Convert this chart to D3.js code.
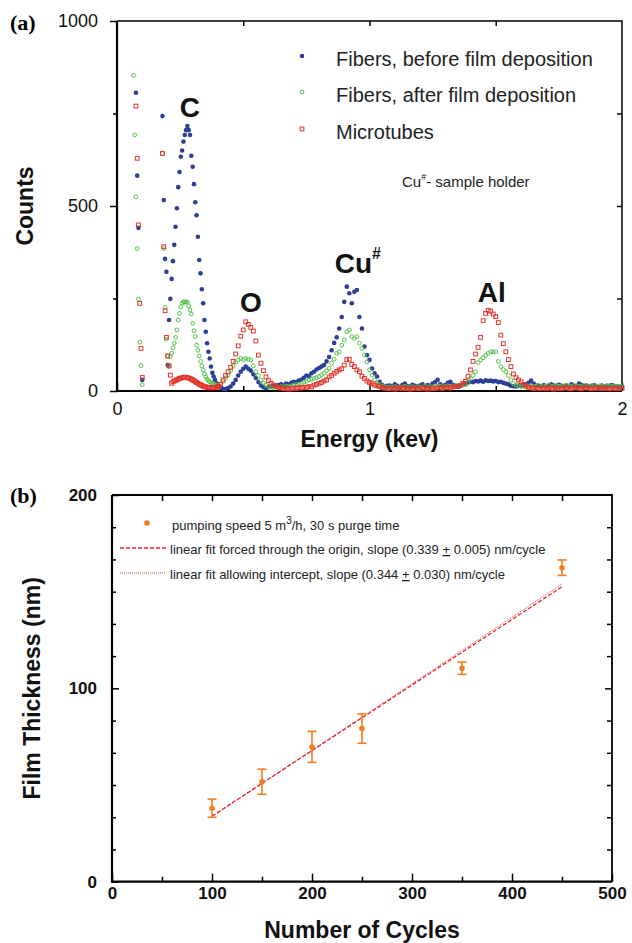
<!DOCTYPE html>
<html>
<head>
<meta charset="utf-8">
<script src="https://cdn.jsdelivr.net/npm/d3@7"></script>
<style>
  body { margin: 0; background: #fff; }
  text { font-family: "Liberation Sans", Arial, sans-serif; }
</style>
</head>
<body>
<div id="chart"></div>
<script>
// ---------- panel (a) data: EDX counts ----------
// low-energy channels (noise edge near 0 kev)
var lowEnergy = [0.065, 0.070, 0.075, 0.080, 0.085, 0.090, 0.095, 0.100];
var blueLow  = [null, null, 806, 582, 441, null, null, 30];
var greenLow = [853, 692, 525, 385, 248, 132, 69, 17];
var redLow   = [null, null, 770, 629, 449, 237, 115, 37];

// C peak region, fine channels from 0.18 kev
var fineStart = 0.18, fineStep = 0.0052;
var blueFine = [
  743, 516, 357, 322, 70, 192, 249, 303, 351, 395,
  444, 494, 551, 592, 633, 650, 674, 692, 705, 716,
  705, 692, 636, 606, 559, 510, 475, 417, 354, 318,
  275, 237, 192, 160, 129, 106, 88, 66, 49, 39,
  30, 21, 16, 12
];
var greenFine = [
  642, 385, 226, 140, 93, 66, 93, 102, 117, 129,
  145, 165, 192, 210, 228, 237, 241, 240, 241, 240,
  230, 219, 208, 183, 163, 147, 124, 110, 95, 80,
  68, 57, 46, 38, 32, 28, 25, 23, 21, 19,
  17, 16, 15, 14
];
var redFine = [
  642, 390, 217, 145, 95, 68, 43, 21, 25, 27,
  29, 30, 32, 34, 35, 36, 37, 37, 37, 36,
  35, 34, 32, 30, 28, 25, 23, 21, 18, 17,
  15, 13, 12, 11, 10, 9, 9, 9, 9, 9,
  9, 10, 11, 13
];

// main channels: 0.41 kev upward, one value every 0.01 kev
var mainStart = 0.41, mainStep = 0.01;
var blueCounts = [
  9, 6, 5, 8, 12, 20, 30,
  42, 52, 60, 66, 60, 55, 45, 35, 24, 15,
  10, 8, 10, 12, 14, 15, 16, 18, 15, 20,
  18, 22, 25, 24, 28, 30, 36, 42, 40, 48,
  52, 58, 62, 66, 70, 80, 92, 110, 130, 145,
  169, 200, 241, 282, 264, 237, 268, 273, 200, 169,
  120, 97, 84, 61, 48, 39, 25, 16, 12, 14,
  15, 12, 18, 14, 11, 16, 20, 13, 12, 17,
  14, 12, 15, 18, 13, 16, 14, 20, 24, 30,
  18, 14, 16, 22, 25, 17, 15, 13, 16, 18,
  20, 22, 25, 24, 27, 26, 28, 25, 29, 27,
  28, 26, 27, 24, 25, 22, 20, 18, 14, 13,
  12, 14, 15, 16, 18, 22, 28, 20, 15, 14,
  13, 16, 12, 14, 18, 15, 12, 17, 14, 13,
  15, 12, 18, 14, 12, 20, 16, 13, 15, 12,
  14, 16, 12, 11, 15, 13, 12, 14, 16, 12,
  13, 11, 12
];
var greenCounts = [
  18, 26, 35, 43, 55, 68, 78,
  84, 88, 85, 88, 86, 84, 68, 52, 42, 30,
  22, 16, 12, 10, 9, 11, 10, 12, 11, 13,
  12, 14, 15, 17, 18, 20, 24, 26, 30, 32,
  34, 36, 39, 44, 48, 55, 61, 75, 86, 102,
  106, 124, 138, 160, 165, 147, 142, 147, 129, 115,
  97, 79, 57, 43, 30, 21, 16, 13, 12, 10,
  11, 9, 12, 10, 8, 11, 13, 10, 9, 12,
  10, 12, 11, 9, 13, 10, 12, 11, 14, 12,
  13, 11, 12, 14, 12, 13, 15, 14, 16, 18,
  16, 22, 33, 42, 52, 77, 84, 90, 96, 102,
  106, 106, 106, 80, 66, 58, 52, 42, 30, 20,
  16, 14, 12, 13, 11, 12, 14, 12, 13, 15,
  12, 14, 13, 16, 12, 14, 15, 13, 12, 14,
  16, 13, 12, 15, 14, 13, 12, 16, 14, 12,
  13, 15, 12, 14, 13, 12, 15, 13, 12, 14,
  13, 12, 14
];
var redCounts = [
  18, 30, 42, 52, 64, 80, 100,
  122, 148, 165, 187, 180, 172, 162, 135, 97, 75,
  55, 38, 28, 21, 16, 12, 10, 8, 6, 7,
  5, 6, 8, 7, 9, 8, 10, 9, 12, 11,
  16, 18, 21, 23, 27, 30, 38, 42, 48, 53,
  57, 60, 70, 85, 86, 72, 66, 57, 52, 40,
  34, 27, 23, 20, 16, 14, 12, 9, 8, 7,
  6, 8, 5, 7, 9, 6, 8, 7, 5, 6,
  8, 7, 6, 9, 7, 5, 8, 6, 7, 9,
  8, 7, 9, 10, 8, 11, 12, 12, 15, 21,
  26, 40, 57, 80, 100, 118, 145, 190, 210, 218,
  216, 208, 201, 185, 151, 128, 106, 85, 66, 46,
  36, 30, 25, 18, 14, 10, 8, 7, 9, 6,
  7, 8, 6, 9, 7, 5, 8, 7, 6, 8,
  9, 7, 6, 8, 10, 7, 6, 8, 9, 7,
  6, 8, 7, 9, 6, 8, 7, 6, 8, 7,
  6, 8, 7
];
var spectrumNames = ["Fibers, before film deposition", "Fibers, after film deposition", "Microtubes"];
var peakNames = ["C", "O", "Cu", "Al"];
var peakEnergy = [0.289, 0.53, 0.954, 1.484];
var peakLabelCounts = [740, 213, 319, 240];

// ---------- panel (b) data: film thickness ----------
var cycles = [100, 150, 200, 250, 350, 450];
var thickness = [38.0, 51.7, 69.7, 79.2, 110.4, 162.4];
var thicknessErr = [4.7, 6.5, 8.0, 7.6, 3.2, 4.0];
var fitSlopes = [0.339, 0.344];
var fitIntercepts = [0, -0.8];
var fitRange = [100, 450];

var width = 632, height = 943;
var blue = "#2c3f98", green = "#55c34e", red = "#e2362c", orange = "#f27d1e", fitRed = "#e3262b";

var svg = d3.select("#chart")
  .append("svg")
    .attr("width", width)
    .attr("height", height);

svg.append("rect").attr("width", width).attr("height", height).attr("fill", "#fff");

// =============== panel (a) ===============
var ax = d3.scaleLinear().domain([0, 2]).range([117, 622]);
var ay = d3.scaleLinear().domain([0, 1000]).range([391, 21]);
var intFmt = d3.format("d");

function tickAxis(axis, tx, ty) {
  var g = svg.append("g")
    .attr("transform", "translate(" + tx + "," + ty + ")")
    .call(axis);
  g.select(".domain").remove();
  g.selectAll(".tick line").attr("stroke", "#000").attr("stroke-width", 1.5);
  return g;
}

// left: labelled ticks outward, minor ones too
tickAxis(d3.axisLeft(ay).tickValues([0, 500, 1000]).tickFormat(intFmt).tickSize(7).tickPadding(12), 117, 0)
  .selectAll("text").attr("font-size", "18px").attr("fill", "#111");
tickAxis(d3.axisLeft(ay).tickValues([250, 750]).tickSize(4).tickFormat(""), 117, 0);
// right: ticks pointing in
tickAxis(d3.axisRight(ay).tickValues([250, 500, 750]).tickSize(-5).tickFormat(""), 622, 0);
// bottom: ticks pointing up
tickAxis(d3.axisBottom(ax).tickValues([0, 1, 2]).tickFormat(intFmt).tickSizeInner(-8).tickSizeOuter(0).tickPadding(11), 0, 391)
  .selectAll("text").attr("font-size", "18px").attr("fill", "#111");
tickAxis(d3.axisBottom(ax).tickValues([0.5, 1.5]).tickSizeInner(-5).tickFormat(""), 0, 391);
// top: ticks pointing down
tickAxis(d3.axisTop(ax).tickValues([0.5, 1, 1.5]).tickSizeInner(-5).tickFormat(""), 0, 21);

// frame
svg.append("path")
  .attr("d", "M" + ax(0) + "," + ay(1000) + "H" + ax(2) + "V" + ay(0))
  .attr("fill", "none").attr("stroke", "#000").attr("stroke-width", 1.5);
svg.append("path")
  .attr("d", "M" + ax(0) + "," + ay(1000) + "V" + ay(0) + "H" + ax(2))
  .attr("fill", "none").attr("stroke", "#000").attr("stroke-width", 2.2);

// spectra points
function spectrum(low, fine, counts) {
  var pts = [];
  low.forEach(function(c, i) { if (c != null) pts.push([lowEnergy[i], c]); });
  fine.forEach(function(c, i) { pts.push([fineStart + i * fineStep, c]); });
  counts.forEach(function(c, i) { pts.push([mainStart + i * mainStep, c]); });
  return pts;
}

var plotA = svg.append("g");
plotA.selectAll(".blue").data(spectrum(blueLow, blueFine, blueCounts)).enter()
  .append("circle")
    .attr("cx", function(d) { return ax(d[0]); })
    .attr("cy", function(d) { return ay(d[1]); })
    .attr("r", 2.3)
    .attr("fill", blue);
plotA.selectAll(".green").data(spectrum(greenLow, greenFine, greenCounts)).enter()
  .append("circle")
    .attr("cx", function(d) { return ax(d[0]); })
    .attr("cy", function(d) { return ay(d[1]); })
    .attr("r", 1.9)
    .attr("fill", "none")
    .attr("stroke", green)
    .attr("stroke-width", 1);
plotA.selectAll(".red").data(spectrum(redLow, redFine, redCounts)).enter()
  .append("rect")
    .attr("x", function(d) { return ax(d[0]) - 1.9; })
    .attr("y", function(d) { return ay(d[1]) - 1.9; })
    .attr("width", 3.8)
    .attr("height", 3.8)
    .attr("fill", "none")
    .attr("stroke", red)
    .attr("stroke-width", 1);

// peak labels
peakNames.forEach(function(p, i) {
  var t = svg.append("text")
    .attr("x", ax(peakEnergy[i]))
    .attr("y", ay(peakLabelCounts[i]))
    .attr("text-anchor", "middle")
    .attr("font-size", "28px")
    .attr("font-weight", "bold")
    .attr("fill", "#111")
    .text(p);
  if (p == "Cu") {
    t.append("tspan").attr("font-size", "16px").attr("dy", -14).text("#");
  }
});

// legend
var legA = svg.append("g").attr("transform", "translate(302,0)");
var legY = [56, 92, 129];
spectrumNames.forEach(function(name, i) {
  legA.append("text")
    .attr("x", 34).attr("y", legY[i] + 10)
    .attr("font-size", "20px").attr("fill", "#222")
    .text(name);
});
legA.append("circle").attr("cx", 0).attr("cy", legY[0]).attr("r", 2.3).attr("fill", blue);
legA.append("circle").attr("cx", 0).attr("cy", legY[1]).attr("r", 1.9)
  .attr("fill", "none").attr("stroke", green);
legA.append("rect").attr("x", -1.9).attr("y", legY[2] - 1.9).attr("width", 3.8).attr("height", 3.8)
  .attr("fill", "none").attr("stroke", red);

var note = svg.append("text")
  .attr("x", 402).attr("y", 187)
  .attr("font-size", "15px").attr("fill", "#222")
  .text("Cu");
note.append("tspan").attr("font-size", "9px").attr("dy", -7).text("#");
note.append("tspan").attr("dy", 7).text("- sample holder");

// titles
svg.append("text")
  .attr("x", 10).attr("y", 30)
  .style("font-family", "Liberation Serif, Times New Roman, serif")
  .attr("font-size", "22px").attr("font-weight", "bold")
  .text("(a)");
svg.append("text")
  .attr("transform", "translate(33," + ((ay(0) + ay(1000)) / 2) + ") rotate(-90)")
  .attr("text-anchor", "middle")
  .attr("font-size", "23px").attr("font-weight", "bold").attr("fill", "#111")
  .text("Counts");
svg.append("text")
  .attr("x", (ax(0) + ax(2)) / 2).attr("y", 447)
  .attr("text-anchor", "middle")
  .attr("font-size", "23px").attr("font-weight", "bold").attr("fill", "#111")
  .text("Energy (kev)");

// =============== panel (b) ===============
var bx = d3.scaleLinear().domain([0, 500]).range([112, 612]);
var by = d3.scaleLinear().domain([0, 200]).range([881.7, 495]);
var minorY = d3.range(1, 12).map(function(k) { return k * 100 / 6; }).filter(function(v) { return v % 100 > 1; });

tickAxis(d3.axisLeft(by).tickValues([0, 100, 200]).tickSizeInner(-7).tickSizeOuter(0).tickPadding(15), 112, 0)
  .selectAll("text").attr("font-size", "17px").attr("font-weight", "bold").attr("fill", "#111");
tickAxis(d3.axisLeft(by).tickValues(minorY).tickSizeInner(-4).tickFormat(""), 112, 0);
tickAxis(d3.axisRight(by).tickValues([100]).tickSizeInner(-7).tickFormat(""), 612, 0);
tickAxis(d3.axisRight(by).tickValues(minorY).tickSizeInner(-5).tickFormat(""), 612, 0);
tickAxis(d3.axisBottom(bx).tickValues([0, 100, 200, 300, 400, 500]).tickSizeInner(-8).tickSizeOuter(0).tickPadding(5), 0, 881.7)
  .selectAll("text").attr("font-size", "17px").attr("font-weight", "bold").attr("fill", "#111");
tickAxis(d3.axisBottom(bx).tickValues([50, 150, 250, 350, 450]).tickSizeInner(-5).tickFormat(""), 0, 881.7);
tickAxis(d3.axisTop(bx).tickValues([50, 100, 150, 200, 250, 300, 350, 400, 450]).tickSizeInner(-6).tickFormat(""), 0, 495);

svg.append("path")
  .attr("d", "M" + bx(0) + "," + by(200) + "H" + bx(500) + "V" + by(0))
  .attr("fill", "none").attr("stroke", "#000").attr("stroke-width", 1.8);
svg.append("path")
  .attr("d", "M" + bx(0) + "," + by(200) + "V" + by(0) + "H" + bx(500))
  .attr("fill", "none").attr("stroke", "#000").attr("stroke-width", 2.2);

// fit lines
var fitDash = ["4,2", "1,1"];
var fitWidth = [1.3, 0.9];
fitSlopes.forEach(function(s, i) {
  svg.append("line")
    .attr("x1", bx(fitRange[0])).attr("y1", by(s * fitRange[0] + fitIntercepts[i]))
    .attr("x2", bx(fitRange[1])).attr("y2", by(s * fitRange[1] + fitIntercepts[i]))
    .attr("stroke", fitRed).attr("stroke-width", fitWidth[i])
    .attr("stroke-dasharray", fitDash[i]);
});

// error bars + points
var pts = cycles.map(function(c, i) { return {x: c, y: thickness[i], e: thicknessErr[i]}; });
var eb = svg.append("g").attr("stroke", orange).attr("stroke-width", 1.6);
eb.selectAll(".bar").data(pts).enter().append("line")
  .attr("x1", function(d) { return bx(d.x); }).attr("x2", function(d) { return bx(d.x); })
  .attr("y1", function(d) { return by(d.y - d.e); }).attr("y2", function(d) { return by(d.y + d.e); });
eb.selectAll(".capTop").data(pts).enter().append("line")
  .attr("x1", function(d) { return bx(d.x) - 4.5; }).attr("x2", function(d) { return bx(d.x) + 4.5; })
  .attr("y1", function(d) { return by(d.y + d.e); }).attr("y2", function(d) { return by(d.y + d.e); });
eb.selectAll(".capBot").data(pts).enter().append("line")
  .attr("x1", function(d) { return bx(d.x) - 4.5; }).attr("x2", function(d) { return bx(d.x) + 4.5; })
  .attr("y1", function(d) { return by(d.y - d.e); }).attr("y2", function(d) { return by(d.y - d.e); });
svg.selectAll(".pt").data(pts).enter().append("circle")
  .attr("cx", function(d) { return bx(d.x); })
  .attr("cy", function(d) { return by(d.y); })
  .attr("r", 2.8)
  .attr("fill", orange);

// legend (b)
var legB = svg.append("g").attr("font-size", "13px").attr("fill", "#222");
legB.append("circle").attr("cx", 147).attr("cy", 523).attr("r", 2.8).attr("fill", orange);
var t1 = legB.append("text").attr("x", 172).attr("y", 530).text("pumping speed 5 m");
t1.append("tspan").attr("dy", -6).attr("font-size", "10px").text("3");
t1.append("tspan").attr("dy", 6).text("/h, 30 s purge time");

var fitLabel = [["linear fit forced through the origin, slope (0.339 ", "0.005) nm/cycle"],
                ["linear fit allowing intercept, slope (0.344 ", "0.030) nm/cycle"]];
[548, 573].forEach(function(yy, i) {
  legB.append("line").attr("x1", 120).attr("x2", 166).attr("y1", yy).attr("y2", yy)
    .attr("stroke", fitRed).attr("stroke-width", fitWidth[i]).attr("stroke-dasharray", fitDash[i]);
  var t = legB.append("text").attr("x", 170).attr("y", yy + 6).text(fitLabel[i][0]);
  t.append("tspan").style("text-decoration", "underline").text("+");
  t.append("tspan").text(" " + fitLabel[i][1]);
});

svg.append("text")
  .attr("x", 10).attr("y", 503)
  .style("font-family", "Liberation Serif, Times New Roman, serif")
  .attr("font-size", "22px").attr("font-weight", "bold")
  .text("(b)");
svg.append("text")
  .attr("transform", "translate(40," + ((by(0) + by(200)) / 2) + ") rotate(-90)")
  .attr("text-anchor", "middle")
  .attr("font-size", "23px").attr("font-weight", "bold").attr("fill", "#111")
  .text("Film Thickness (nm)");
svg.append("text")
  .attr("x", (bx(0) + bx(500)) / 2).attr("y", 938)
  .attr("text-anchor", "middle")
  .attr("font-size", "23px").attr("font-weight", "bold").attr("fill", "#111")
  .text("Number of Cycles");
</script>
</body>
</html>
